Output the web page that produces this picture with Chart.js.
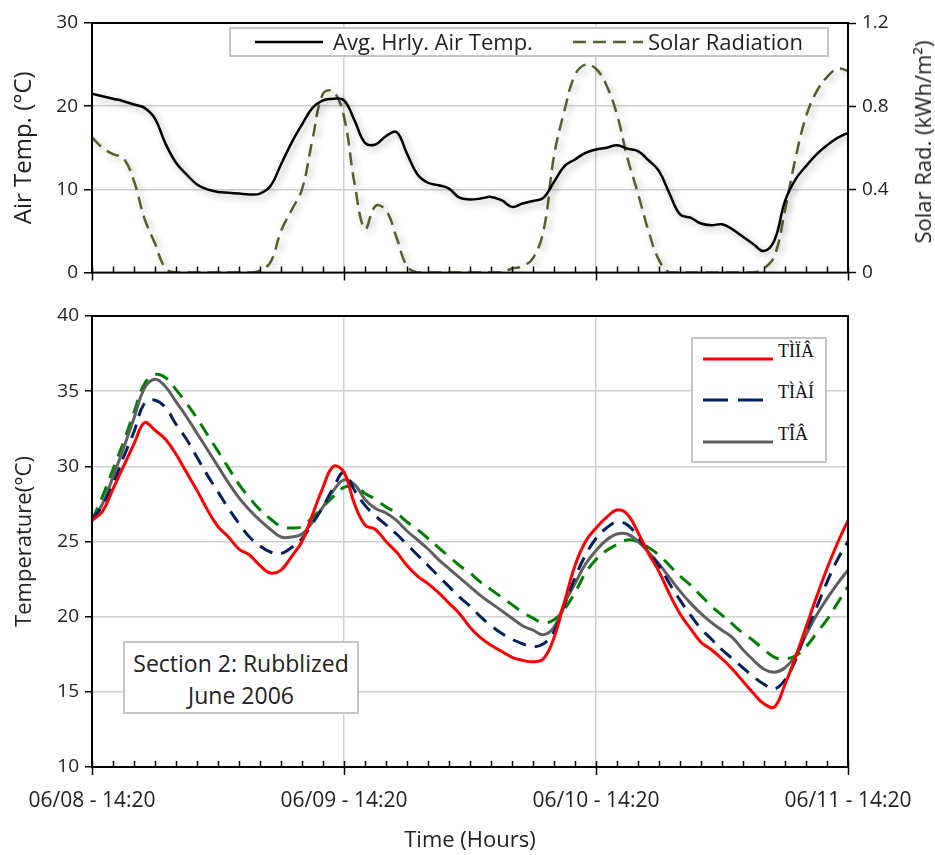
<!DOCTYPE html>
<html>
<head>
<meta charset="utf-8">
<script src="https://cdn.jsdelivr.net/npm/chart.js@4.4.1/dist/chart.umd.min.js"></script>
<style>
  body { margin: 0; background: #fff; }
  #marco { position: relative; width: 935px; height: 855px; font-family: "Open Sans", sans-serif; color: #222; }
  canvas { position: absolute; left: 0; }
  .caja { position: absolute; background: #fff; border: 2px solid #c4c4c4; box-sizing: border-box; }
  .caja svg, .caja span { position: absolute; }
  .serif { font-family: "Liberation Serif", "DejaVu Serif", serif; font-size: 18px; color: #111; }
  #tituloSolar { position: absolute; left: 922px; top: 142px; transform: translate(-50%, -50%) rotate(-90deg); white-space: nowrap; font-size: 22px; }
  #nota { left: 123px; top: 641px; width: 236px; height: 73px; text-align: center; font-size: 23px; line-height: 32px; padding-top: 4px; }
</style>
</head>
<body>
<div id="marco">
  <canvas id="chartAire" width="935" height="290" style="top:0"></canvas>
  <canvas id="chartPavimento" width="935" height="565" style="top:290px"></canvas>

  <div class="caja" style="left:229px;top:27px;width:600px;height:30px">
    <svg style="left:24px;top:8px" width="68" height="10"><line x1="0" y1="5" x2="68" y2="5" stroke="#000" stroke-width="2.5"/></svg>
    <span style="left:102px;top:-3px;font-size:22px">Avg. Hrly. Air Temp.</span>
    <svg style="left:342px;top:8px" width="70" height="10"><line x1="0" y1="5" x2="70" y2="5" stroke="#4f6228" stroke-width="2.5" stroke-dasharray="13 7"/></svg>
    <span style="left:417px;top:-3px;font-size:22px">Solar Radiation</span>
  </div>
  <div id="tituloSolar">Solar Rad. (kWh/m²)</div>

  <div class="caja" style="left:691px;top:337px;width:136px;height:126px">
    <svg style="left:10px;top:16px" width="70" height="8"><line x1="0" y1="4" x2="70" y2="4" stroke="#ff0000" stroke-width="3"/></svg>
    <span class="serif" style="left:85px;top:2px">TÌÏÂ</span>
    <svg style="left:10px;top:57px" width="70" height="8"><line x1="0" y1="4" x2="70" y2="4" stroke="#002060" stroke-width="3" stroke-dasharray="25 10"/></svg>
    <span class="serif" style="left:85px;top:43px">TÌÀÍ</span>
    <svg style="left:10px;top:99px" width="70" height="8"><line x1="0" y1="4" x2="70" y2="4" stroke="#5f5f5f" stroke-width="3"/></svg>
    <span class="serif" style="left:85px;top:85px">TÎÂ</span>
  </div>

  <div class="caja" id="nota">Section 2: Rubblized<br>June 2006</div>
</div>

<script>
// horas transcurridas desde 06/08 14:20
const HORAS = [0,1,2,3,4,5,6,7,8,9,10,11,12,13,14,15,16,17,18,19,20,21,22,23,24,25,26,27,28,29,30,31,32,33,34,35,36,
  37,38,39,40,41,42,43,44,45,46,47,48,49,50,51,52,53,54,55,56,57,58,59,60,61,62,63,64,65,66,67,68,69,70,71,72];

const ETIQUETAS_X = ['06/08 - 14:20', '06/09 - 14:20', '06/10 - 14:20', '06/11 - 14:20'];

// temperatura del aire (°C)
const tempAire = [21.5,21.2,20.9,20.6,20.2,19.8,18.5,15.5,13.2,11.8,10.6,10.0,9.7,9.6,9.5,9.4,9.5,10.4,13.0,15.6,17.8,19.8,20.7,20.9,20.7,
  18.3,15.6,15.4,16.4,16.9,14.3,11.8,10.8,10.5,10.1,9.0,8.8,8.9,9.1,8.7,7.9,8.3,8.6,9.0,10.9,12.8,13.6,14.4,14.8,15.0,
  15.3,14.9,14.6,13.5,12.2,9.5,7.0,6.6,5.9,5.7,5.8,5.2,4.3,3.4,2.6,3.9,8.6,11.2,12.8,14.2,15.3,16.2,16.8];

// radiacion solar (kWh/m2)
const radSolar = [0.65,0.6,0.57,0.55,0.44,0.26,0.14,0.02,0,0,0,0,0,0,0,0,0.01,0.05,0.2,0.3,0.4,0.64,0.86,0.87,0.75,
  0.43,0.21,0.32,0.3,0.17,0.03,0,0,0,0,0,0,0,0,0,0.02,0.03,0.07,0.2,0.56,0.78,0.95,1.0,0.98,0.9,
  0.76,0.55,0.38,0.2,0.06,0,0,0,0,0,0,0,0,0,0.02,0.08,0.3,0.55,0.75,0.87,0.94,0.98,0.97];

// temperaturas del pavimento (°C)
const serieRoja = [26.4,27.0,28.5,30.0,31.5,32.9,32.4,31.8,30.8,29.6,28.4,27.1,26.0,25.3,24.5,24.1,23.4,22.9,23.1,24.0,25.0,26.8,28.6,30.0,29.6,
  27.5,26.1,25.8,25.0,24.3,23.4,22.7,22.2,21.6,20.9,20.2,19.3,18.6,18.1,17.7,17.3,17.1,17.0,17.2,18.6,21.0,23.4,25.0,25.9,26.6,
  27.1,26.8,25.6,24.2,23.0,21.5,20.2,19.2,18.3,17.8,17.2,16.5,15.7,14.9,14.2,14.0,15.5,17.3,19.3,21.3,23.2,24.9,26.4];
const serieAzul = [26.4,27.4,28.8,30.6,32.3,34.2,34.4,33.9,32.8,31.8,30.6,29.4,28.3,27.2,26.2,25.3,24.7,24.3,24.2,24.6,25.2,26.2,27.3,28.6,29.6,
  28.4,27.4,26.7,26.1,25.5,24.8,24.1,23.4,22.7,22.0,21.3,20.7,20.0,19.4,18.9,18.5,18.2,18.0,18.2,19.0,20.8,22.6,24.1,25.2,25.9,
  26.3,26.1,25.3,24.3,23.4,22.2,21.1,20.1,19.2,18.5,17.8,17.2,16.6,16.0,15.5,15.2,15.8,17.1,19.0,20.6,22.3,23.8,25.0];
const serieGris = [26.4,27.5,29.3,31.2,33.2,35.2,35.8,35.3,34.3,33.3,32.2,31.1,30.0,28.9,27.9,27.1,26.4,25.8,25.3,25.3,25.5,26.3,27.3,28.4,29.1,
  28.8,27.8,27.2,26.9,26.4,25.7,25.1,24.5,23.8,23.2,22.6,22.0,21.4,20.9,20.4,19.9,19.4,19.1,18.8,19.3,20.9,22.2,23.5,24.4,25.1,
  25.5,25.5,25.0,24.3,23.5,22.6,21.7,20.9,20.2,19.6,19.1,18.6,17.8,17.1,16.5,16.3,16.6,17.4,18.8,20.1,21.2,22.2,23.1];
const serieVerde = [26.4,28.0,29.8,31.6,33.6,35.5,36.1,35.9,35.1,34.2,33.2,32.1,31.0,29.9,28.8,27.9,27.1,26.5,26.0,25.9,26.0,26.6,27.3,28.0,28.6,
  28.7,28.2,27.8,27.3,26.9,26.3,25.8,25.2,24.6,24.0,23.4,22.9,22.3,21.8,21.3,20.8,20.3,19.9,19.6,19.8,20.5,21.6,22.9,23.8,24.4,
  24.8,25.1,25.0,24.6,24.1,23.4,22.7,22.1,21.4,20.7,20.1,19.5,18.9,18.4,17.8,17.3,17.2,17.4,18.0,18.9,19.8,20.9,22.0];

const FUENTE = 'Open Sans';
const GRIS_REJILLA = '#d0d0d0';
const TRANSPARENTE = 'rgba(0,0,0,0)';

// marco negro del area de trazado y marcas del eje de tiempo (cada 2 h, mayores cada 24 h)
const marcoGrafico = {
  id: 'marcoGrafico',
  afterDraw(chart) {
    const { ctx, chartArea: a, scales } = chart;
    ctx.save();
    ctx.strokeStyle = '#000';
    ctx.lineWidth = 2;
    ctx.strokeRect(a.left, a.top, a.right - a.left, a.bottom - a.top);
    ctx.lineWidth = 1.5;
    ctx.beginPath();
    for (let h = 0; h <= 72; h += 2) {
      const px = Math.round(scales.x.getPixelForValue(h)) + 0.5;
      if (h % 24 === 0) {
        ctx.moveTo(px, a.bottom - 6);
        ctx.lineTo(px, a.bottom + 8);
      } else {
        ctx.moveTo(px, a.bottom - 6);
        ctx.lineTo(px, a.bottom);
      }
    }
    ctx.stroke();
    ctx.restore();
  }
};

// sombra suave bajo las curvas del grafico superior
const sombraLineas = {
  id: 'sombraLineas',
  beforeDatasetDraw(chart) {
    const ctx = chart.ctx;
    ctx.save();
    ctx.shadowColor = 'rgba(0,0,0,0.3)';
    ctx.shadowBlur = 7;
    ctx.shadowOffsetX = 3;
    ctx.shadowOffsetY = 3;
  },
  afterDatasetDraw(chart) {
    chart.ctx.restore();
  }
};

function ejeTiempo(alto, conEtiquetas) {
  return {
    type: 'linear', min: 0, max: 72,
    afterFit: s => { s.height = alto; },
    grid: {
      color: c => (c.tick.value === 24 || c.tick.value === 48) ? GRIS_REJILLA : TRANSPARENTE,
      lineWidth: 1.5, drawTicks: false
    },
    border: { display: false },
    ticks: {
      display: conEtiquetas, stepSize: 24, autoSkip: false, maxRotation: 0, padding: 21,
      color: '#222', font: { family: FUENTE, size: 21 },
      callback: v => ETIQUETAS_X[v / 24]
    },
    title: conEtiquetas ? {
      display: true, text: 'Time (Hours)', color: '#222',
      font: { family: FUENTE, size: 22 }, padding: { top: 0, bottom: 1 }
    } : { display: false }
  };
}

Chart.defaults.font.family = FUENTE;
Chart.defaults.animation = false;

// grafico superior: aire y radiacion
new Chart(document.getElementById('chartAire'), {
  type: 'line',
  data: {
    labels: HORAS,
    datasets: [
      { label: 'Avg. Hrly. Air Temp.', data: tempAire, yAxisID: 'y', borderColor: '#000', borderWidth: 2.5, tension: 0.4, pointRadius: 0 },
      { label: 'Solar Radiation', data: radSolar, yAxisID: 'y1', borderColor: '#4f6228', borderWidth: 2.5, borderDash: [13, 7], tension: 0.4, pointRadius: 0 }
    ]
  },
  options: {
    responsive: false,
    layout: { padding: { top: 23, left: 0, right: 0, bottom: 0 } },
    plugins: { legend: { display: false }, tooltip: { enabled: false } },
    scales: {
      x: ejeTiempo(11, false),
      y: {
        position: 'left', min: 0, max: 30,
        afterFit: s => { s.width = 92; },
        ticks: { stepSize: 10, padding: 6, color: '#222', font: { family: FUENTE, size: 19 } },
        grid: {
          color: c => (c.tick.value > 0 && c.tick.value < 30) ? GRIS_REJILLA : TRANSPARENTE,
          lineWidth: 1.5, tickLength: 8, tickColor: '#000', tickWidth: 1.5
        },
        border: { color: '#000', width: 2 },
        title: { display: true, text: 'Air Temp. (°C)', color: '#222', font: { family: FUENTE, size: 24 }, padding: { top: 10, bottom: 0 } }
      },
      y1: {
        position: 'right', min: 0, max: 1.2,
        afterFit: s => { s.width = 87; },
        ticks: { stepSize: 0.4, padding: 6, color: '#222', font: { family: FUENTE, size: 19 },
          callback: v => String(Math.round(v * 10) / 10) },
        grid: { drawOnChartArea: false, tickLength: 8, tickColor: '#000', tickWidth: 1.5 },
        border: { color: '#000', width: 2 }
      }
    }
  },
  plugins: [sombraLineas, marcoGrafico]
});

// grafico inferior: temperaturas en el pavimento
new Chart(document.getElementById('chartPavimento'), {
  type: 'line',
  data: {
    labels: HORAS,
    datasets: [
      { label: 'TÌÏÂ', data: serieRoja, borderColor: '#ff0000', borderWidth: 3, tension: 0.4, pointRadius: 0 },
      { label: 'TÌÀÍ', data: serieAzul, borderColor: '#002060', borderWidth: 3, borderDash: [14, 9], tension: 0.4, pointRadius: 0 },
      { label: 'TÎÂ', data: serieGris, borderColor: '#5f5f5f', borderWidth: 3, tension: 0.4, pointRadius: 0 },
      { label: '', data: serieVerde, borderColor: '#008000', borderWidth: 3, borderDash: [14, 9], tension: 0.4, pointRadius: 0 }
    ]
  },
  options: {
    responsive: false,
    layout: { padding: { top: 26, left: 0, right: 87, bottom: 0 } },
    plugins: { legend: { display: false }, tooltip: { enabled: false } },
    scales: {
      x: ejeTiempo(88, true),
      y: {
        position: 'left', min: 10, max: 40,
        afterFit: s => { s.width = 92; },
        ticks: { stepSize: 5, padding: 6, color: '#222', font: { family: FUENTE, size: 19 } },
        grid: {
          color: c => (c.tick.value > 10 && c.tick.value < 40) ? GRIS_REJILLA : TRANSPARENTE,
          lineWidth: 1.5, tickLength: 7, tickColor: '#000', tickWidth: 1.5
        },
        border: { color: '#000', width: 2 },
        title: { display: true, text: 'Temperature(°C)', color: '#222', font: { family: FUENTE, size: 22 }, padding: { top: 12, bottom: 0 } }
      }
    }
  },
  plugins: [marcoGrafico]
});
</script>
</body>
</html>
